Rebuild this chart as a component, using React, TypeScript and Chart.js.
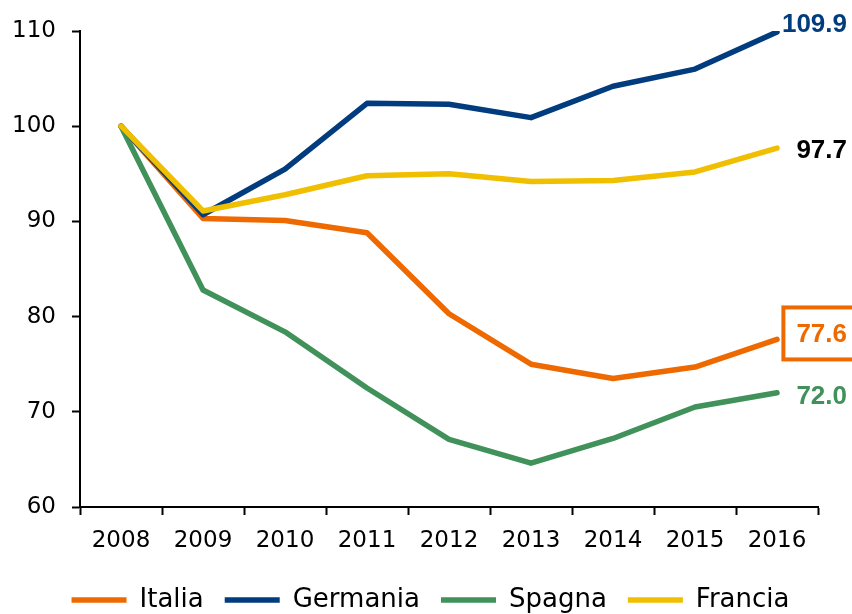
import React, { useEffect, useRef } from 'react';
import { Chart, registerables } from 'chart.js';

Chart.register(...registerables);

const categories = ['2008', '2009', '2010', '2011', '2012', '2013', '2014', '2015', '2016'];
const italia = [100, 90.3, 90.1, 88.8, 80.3, 75.0, 73.5, 74.7, 77.6];
const germania = [100, 90.7, 95.5, 102.4, 102.3, 100.9, 104.2, 106.0, 109.9];
const spagna = [100, 82.8, 78.4, 72.5, 67.1, 64.6, 67.2, 70.5, 72.0];
const francia = [100, 91.1, 92.8, 94.8, 95.0, 94.2, 94.3, 95.2, 97.7];
const seriesNames = ['Italia', 'Germania', 'Spagna', 'Francia'];
const yMin = 60;
const yMax = 110;
const yStep = 10;

const COLORS = {
  italia: '#EE6A00',
  germania: '#003C7E',
  spagna: '#40915A',
  francia: '#F0BF00',
};

const TICK_FONT = { family: '"DejaVu Sans", sans-serif', size: 23 };
const LABEL_FONT = 'bold 26px "Liberation Sans", Arial, sans-serif';

const labelStyles = [
  { color: COLORS.italia, dy: -6, box: true },
  { color: COLORS.germania, dy: -8, box: false },
  { color: COLORS.spagna, dy: 3, box: false },
  { color: '#000000', dy: 2, box: false },
];

const endLabelsPlugin = {
  id: 'endLabels',
  afterDatasetsDraw(chart: any) {
    const { ctx, chartArea } = chart;
    ctx.save();
    ctx.font = LABEL_FONT;
    ctx.textAlign = 'right';
    ctx.textBaseline = 'middle';
    chart.data.datasets.forEach((ds: any, i: number) => {
      const meta = chart.getDatasetMeta(i);
      const pt = meta.data[meta.data.length - 1];
      if (!pt) return;
      const st = labelStyles[i];
      const text = Number(ds.data[ds.data.length - 1]).toFixed(1);
      const xRight = chartArea.right + 29;
      const y = pt.y + st.dy;
      ctx.fillStyle = st.color;
      ctx.fillText(text, xRight, y + 1);
      if (st.box) {
        const w = ctx.measureText(text).width;
        ctx.strokeStyle = st.color;
        ctx.lineWidth = 4;
        ctx.strokeRect(xRight - w - 13, y - 26, w + 30, 52);
      }
    });
    ctx.restore();
  },
};

export default function App() {
  const ref = useRef<HTMLCanvasElement | null>(null);

  useEffect(() => {
    document.body.style.margin = '0';
    const canvas = ref.current;
    if (!canvas) return;
    const mk = (label: string, data: number[], color: string, order: number) => ({
      label,
      data,
      borderColor: color,
      backgroundColor: color,
      borderWidth: 5.5,
      borderCapStyle: 'round' as const,
      borderJoinStyle: 'round' as const,
      pointRadius: 0,
      pointHoverRadius: 0,
      tension: 0,
      fill: false,
      order,
    });
    const chart = new Chart(canvas, {
      type: 'line',
      data: {
        labels: categories,
        datasets: [
          mk(seriesNames[0], italia, COLORS.italia, 3),
          mk(seriesNames[1], germania, COLORS.germania, 1),
          mk(seriesNames[2], spagna, COLORS.spagna, 2),
          mk(seriesNames[3], francia, COLORS.francia, 0),
        ],
      },
      options: {
        responsive: false,
        animation: false,
        layout: { padding: { top: 31, right: 0, left: 9, bottom: 0 } },
        scales: {
          x: {
            type: 'category',
            offset: true,
            grid: {
              display: true,
              offset: true,
              drawOnChartArea: false,
              drawTicks: true,
              tickLength: 8,
              tickWidth: 2,
              tickColor: '#000',
            },
            border: { display: true, color: '#000', width: 2 },
            ticks: { color: '#000', font: TICK_FONT, padding: 12, maxRotation: 0 },
            afterFit(scale: any) {
              scale.height = 59;
            },
          },
          y: {
            min: yMin,
            max: yMax,
            grid: {
              display: true,
              drawOnChartArea: false,
              drawTicks: true,
              tickLength: 8,
              tickWidth: 2,
              tickColor: '#000',
            },
            border: { display: true, color: '#000', width: 2 },
            ticks: { stepSize: yStep, color: '#000', font: TICK_FONT, padding: 16 },
            afterFit(scale: any) {
              scale.width = 71;
            },
          },
          ySpace: {
            type: 'linear',
            position: 'right',
            display: true,
            grid: { display: false },
            border: { display: false },
            ticks: { display: false },
            afterFit(scale: any) {
              scale.width = 34;
            },
          },
        },
        plugins: {
          tooltip: { enabled: false },
          legend: {
            display: true,
            position: 'bottom',
            maxHeight: 48,
            labels: {
              usePointStyle: true,
              pointStyle: 'line',
              pointStyleWidth: 55,
              boxHeight: 5,
              color: '#000',
              font: { family: '"DejaVu Sans", sans-serif', size: 26 },
              padding: 21,
              sort: (a: any, b: any) => a.datasetIndex - b.datasetIndex,
            },
          },
        },
      },
      plugins: [endLabelsPlugin],
    } as any);
    return () => chart.destroy();
  }, []);

  return (
    <div style={{ width: 852, height: 614 }}>
      <canvas ref={ref} width={852} height={614} style={{ display: 'block', width: 852, height: 614 }} />
    </div>
  );
}
